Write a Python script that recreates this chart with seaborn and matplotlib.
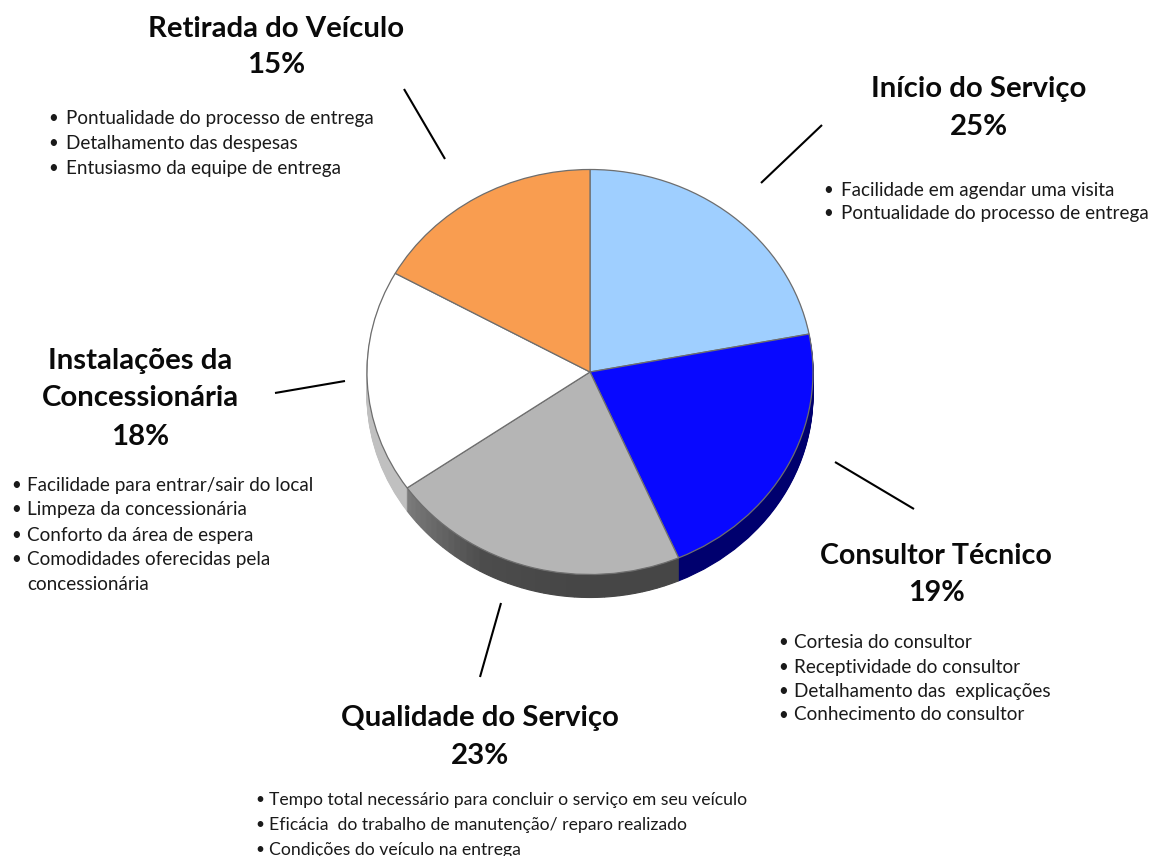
# plot.py
# Pie chart with a fake 3D rim and a label block around each slice.

import matplotlib
matplotlib.use("Agg")
import matplotlib.pyplot as plt
import seaborn as sns

W, H = 1151, 856

# slice sizes as drawn in the picture (they differ from the printed percentages)
slice_shares = [22.0, 21.5, 21.8, 17.8, 16.9]
slice_colors = ["#9fcfff", "#0808ff", "#b5b5b5", "#ffffff", "#f99d50"]
rim_colors = ["#9fcfff", "#00006e", "#464646", "#c0c0c0", "#f99d50"]

titles = [
    ["Início do Serviço"],
    ["Consultor Técnico"],
    ["Qualidade do Serviço"],
    ["Instalações da", "Concessionária"],
    ["Retirada do Veículo"],
]
percents = ["25%", "19%", "23%", "18%", "15%"]
bullets = [
    ["Facilidade em agendar uma visita", "Pontualidade do processo de entrega"],
    ["Cortesia do consultor", "Receptividade do consultor",
     "Detalhamento das  explicações", "Conhecimento do consultor"],
    ["Tempo total necessário para concluir o serviço em seu veículo",
     "Eficácia  do trabalho de manutenção/ reparo realizado",
     "Condições do veículo na entrega"],
    ["Facilidade para entrar/sair do local", "Limpeza da concessionária",
     "Conforto da área de espera", "Comodidades oferecidas pela", "concessionária"],
    ["Pontualidade do processo de entrega", "Detalhamento das despesas",
     "Entusiasmo da equipe de entrega"],
]

# layout in pixels
title_x = [979, 936, 480, 140, 276]
title_y = [[89, 127], [556, 593], [718, 756], [361, 398, 437], [29, 65]]
title_sizes = [21.2, 20.6, 21.2, 21.2, 21.2]
bullet_dot_x = [828, 783, 260, 16, 53]
bullet_text_x = [841, 794, 269, 27, 66]
bullet_y = [
    [190, 213],
    [642, 667, 691, 715],
    [800, 825, 850],
    [485, 509, 535, 559, 584],
    [118, 143, 168],
]
body_sizes = [13.6, 13.6, 12.7, 13.6, 13.6]
leader_x = [[822, 761], [835, 914], [501, 480], [275, 345], [404, 445]]
leader_y = [[125, 183], [462, 509], [603, 677], [393, 381], [89, 159]]

CX, CY = 590, 372
RX, RY = 223, 202.5
DEPTH = 23
GRAD_STEPS = 40

sns.set_theme(style="white")
plt.rcParams["font.family"] = ["Lato", "DejaVu Sans"]

fig = plt.figure(figsize=(W / 100, H / 100), dpi=100, facecolor="white")

# pie axes: data units are pie radii, stretched into an ellipse
ax = fig.add_axes([0, 0, 1, 1], zorder=1)

# the grey slice of the rim fades towards the left, so split it up
grey_fade = sns.blend_palette(["#464646", "#464646", "#4c4c4c", "#7a7a7a"], GRAD_STEPS)
rim_shares = []
rim_cols = []
for i, share in enumerate(slice_shares):
    if i == 2:
        rim_shares += [share / GRAD_STEPS] * GRAD_STEPS
        rim_cols += list(grey_fade)
    else:
        rim_shares.append(share)
        rim_cols.append(rim_colors[i])

# rim = same pie repeated one pixel lower each time
for d in range(DEPTH, 0, -1):
    wedges, _ = ax.pie(rim_shares, colors=rim_cols, startangle=90, counterclock=False,
                       center=(0, -d / RY), radius=1, wedgeprops={"linewidth": 0.8})
    for w, c in zip(wedges, rim_cols):
        w.set_edgecolor(c)

ax.pie(slice_shares, colors=slice_colors, startangle=90, counterclock=False,
       center=(0, 0), radius=1,
       wedgeprops={"linewidth": 0.9, "edgecolor": "#6e6e6e"})

ax.set_aspect("auto")
ax.set_xlim(-CX / RX, (W - CX) / RX)
ax.set_ylim((CY - H) / RY, CY / RY)
ax.axis("off")

# text and leader lines in pixel coordinates
ov = fig.add_axes([0, 0, 1, 1], zorder=2)
ov.set_xlim(0, W)
ov.set_ylim(H, 0)
ov.axis("off")
ov.patch.set_alpha(0)

for i in range(len(titles)):
    lines = titles[i] + [percents[i]]
    for line, y in zip(lines, title_y[i]):
        ov.text(title_x[i], y, line, ha="center", va="center",
                fontsize=title_sizes[i], fontweight="bold", color="#0a0a0a")

    for j, (line, y) in enumerate(zip(bullets[i], bullet_y[i])):
        # last line of the Instalações list is a wrapped continuation
        if not (i == 3 and j == 4):
            ov.text(bullet_dot_x[i], y, "•", ha="center", va="center",
                    fontsize=body_sizes[i] - 1.5, color="#1a1a1a")
        ov.text(bullet_text_x[i], y, line, ha="left", va="center",
                fontsize=body_sizes[i], color="#1a1a1a", clip_on=False)

    ov.plot(leader_x[i], leader_y[i], color="black", linewidth=1.5,
            solid_capstyle="butt")

fig.savefig("out.png", dpi=100, facecolor="white")
plt.close(fig)
